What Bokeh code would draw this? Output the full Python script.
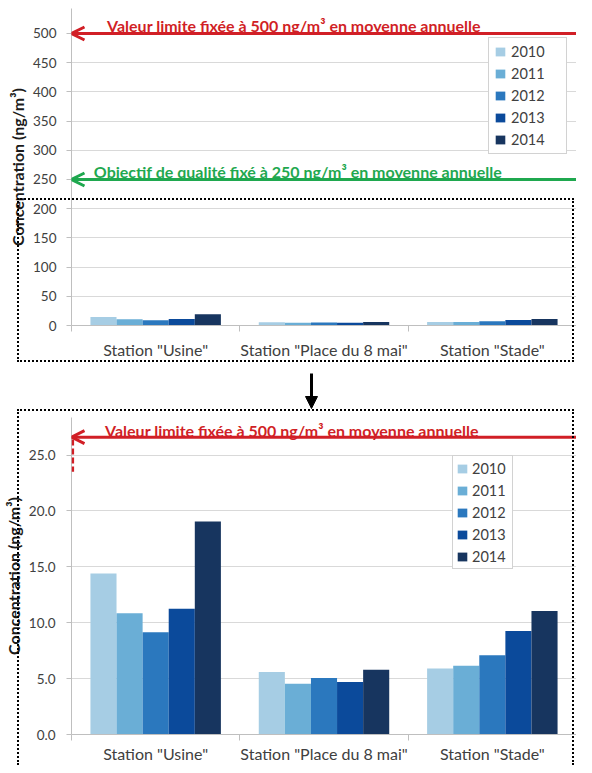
import numpy as np
from bokeh.plotting import figure
from bokeh.models import (Range1d, FixedTicker, Arrow, OpenHead, NormalHead, Label,
                          Legend, LegendItem, PrintfTickFormatter, InlineStyleSheet)
from bokeh.layouts import column
from bokeh.embed import file_html
from bokeh.resources import INLINE

# ---------------- data ----------------
stations = ['Station "Usine"', 'Station "Place du 8 mai"', 'Station "Stade"']
years = ["2010", "2011", "2012", "2013", "2014"]
v2010 = [14.4, 5.6, 5.9]
v2011 = [10.85, 4.55, 6.15]
v2012 = [9.15, 5.05, 7.1]
v2013 = [11.25, 4.7, 9.25]
v2014 = [19.05, 5.8, 11.05]
series = [v2010, v2011, v2012, v2013, v2014]
colors = ["#a6cde4", "#6aaed6", "#2b78be", "#0b4a9b", "#17355f"]

limit_value = 500        # valeur limite
objective_value = 250    # objectif de qualité
ticks_top = list(range(0, 501, 50))
ticks_bottom = [0, 5, 10, 15, 20, 25]

limit_text = "Valeur limite fixée à 500 ng/m³ en moyenne annuelle"
objective_text = "Objectif de qualité fixé à 250 ng/m³ en moyenne annuelle"
y_label = "Concentration (ng/m³)"

FONT = "Lato"
TXT = "#404040"
GRID = "#d9d9d9"
AXIS = "#bfbfbf"
RED = "#d11f26"
GREEN = "#1fa84f"

BAR_W = 0.155


def dotted_box_css(left, top, width, height, bottom_edge=True):
    extra = "" if bottom_edge else "border-bottom: none;"
    return InlineStyleSheet(css=f"""
:host::after {{
  content: "";
  position: absolute;
  left: {left}px; top: {top}px; width: {width}px; height: {height}px;
  box-sizing: border-box;
  border: 2px dotted #000000;
  {extra}
  pointer-events: none;
}}
""")


def base_figure(height, y_end, frame_left, border_top, border_bottom, ticks, fmt,
                tick_standoff, x_standoff, sheet):
    p = figure(width=576, height=height, x_range=Range1d(0, len(stations)),
               y_range=Range1d(0, y_end), output_backend="svg", toolbar_location=None,
               min_border_left=frame_left, min_border_right=0, min_border_top=border_top,
               min_border_bottom=border_bottom, stylesheets=[sheet])
    p.outline_line_color = None
    p.xgrid.grid_line_color = None
    p.ygrid.grid_line_color = GRID
    p.ygrid.ticker = FixedTicker(ticks=ticks)
    # y axis
    p.yaxis.ticker = FixedTicker(ticks=ticks)
    if fmt:
        p.yaxis.formatter = PrintfTickFormatter(format=fmt)
    p.yaxis.axis_line_color = AXIS
    p.yaxis.major_tick_line_color = AXIS
    p.yaxis.major_tick_out = 5
    p.yaxis.major_tick_in = 0
    p.yaxis.minor_tick_line_color = None
    p.yaxis.major_label_standoff = tick_standoff
    p.yaxis.major_label_text_font = FONT
    p.yaxis.major_label_text_font_size = "13.5px"
    p.yaxis.major_label_text_color = TXT
    p.yaxis.axis_label = y_label
    p.yaxis.axis_label_text_font = FONT
    p.yaxis.axis_label_text_font_size = "16px"
    p.yaxis.axis_label_text_font_style = "bold"
    p.yaxis.axis_label_text_color = "#1a1a1a"
    p.yaxis.axis_label_standoff = 3
    # x axis (category centres labelled, boundaries ticked)
    centres = [i + 0.5 for i in range(len(stations))]
    p.xaxis.ticker = FixedTicker(ticks=centres, minor_ticks=list(range(len(stations) + 1)))
    p.xaxis.major_label_overrides = {c: s for c, s in zip(centres, stations)}
    p.xaxis.axis_line_color = AXIS
    p.xaxis.major_tick_line_color = None
    p.xaxis.major_tick_out = 0
    p.xaxis.major_tick_in = 0
    p.xaxis.minor_tick_line_color = AXIS
    p.xaxis.minor_tick_out = 6
    p.xaxis.minor_tick_in = 0
    p.xaxis.major_label_standoff = x_standoff
    p.xaxis.major_label_text_font = FONT
    p.xaxis.major_label_text_font_size = "16px"
    p.xaxis.major_label_text_color = TXT
    # bars
    items = []
    idx = np.arange(len(stations))
    for j, (yr, vals, col) in enumerate(zip(years, series, colors)):
        xs = idx + 0.5 + (j - (len(years) - 1) / 2) * BAR_W
        r = p.vbar(x=xs, top=vals, width=BAR_W, bottom=0, fill_color=col, line_color=None)
        items.append(LegendItem(label=yr, renderers=[r]))
    return p, items


def add_legend(p, items, loc, padding, label_width, spacing, standoff, label_height):
    leg = Legend(items=items, location=loc, padding=padding, spacing=spacing,
                 label_height=label_height, label_width=label_width, glyph_width=12,
                 glyph_height=11, label_standoff=standoff, margin=0,
                 border_line_color="#a6a6a6", border_line_width=1,
                 background_fill_color="white", background_fill_alpha=1,
                 label_text_font=FONT, label_text_font_size="14.5px", label_text_color=TXT)
    p.add_layout(leg, "center")


def threshold(p, yv, text, color, x_off, y_off):
    p.add_layout(Arrow(end=OpenHead(size=13, line_color=color, line_width=3),
                       x_start=len(stations), y_start=yv, x_end=0, y_end=yv,
                       line_color=color, line_width=3))
    p.add_layout(Label(x=len(stations) / 2, y=yv, x_offset=x_off, y_offset=y_off, text=text,
                       text_align="center", text_baseline="alphabetic", text_color=color,
                       text_font=FONT, text_font_size="16px", text_font_style="bold"))


# ---------------- top chart (full scale) ----------------
top, top_items = base_figure(365, 542.8, 59, 8, 40, ticks_top, None, 10, 8,
                             dotted_box_css(17, 198, 557, 164))
threshold(top, limit_value, limit_text, RED, -30, 8)
threshold(top, objective_value, objective_text, GREEN, -26, 8)
add_legend(top, top_items, (417, 171), 5, 50, 5, 5, 17)

# ---------------- connecting arrow ----------------
mid = figure(width=576, height=44, x_range=Range1d(0, 576), y_range=Range1d(44, 0),
             output_backend="svg", toolbar_location=None, min_border=0,
             min_border_left=0, min_border_right=0, min_border_top=0, min_border_bottom=0,
             x_axis_location=None, y_axis_location=None)
mid.outline_line_color = None
mid.grid.visible = False
mid.add_layout(Arrow(x_start=311, y_start=8, x_end=311, y_end=43,
                     start_units="canvas", end_units="canvas",
                     line_color="black", line_width=3,
                     end=NormalHead(size=12, fill_color="black", line_color="black")))

# ---------------- bottom chart (zoom) ----------------
bot, bot_items = base_figure(356, 28.36, 62, 8, 27, ticks_bottom, "%.1f", 11, 3,
                             dotted_box_css(17, 0, 557, 356, bottom_edge=False))
threshold(bot, 26.6, limit_text, RED, -32, 7)
# dashed red drop at the left end of the limit arrow
bot.add_layout(Arrow(x_start=0.008, y_start=26.4, x_end=0.008, y_end=23.5, end=None,
                     line_color=RED, line_width=2.5, line_dash="6 3"))
add_legend(bot, bot_items, (381, 165), 3, 37, 4, 4, 18)

layout = column(top, mid, bot, spacing=0)
open("out.html", "w").write(file_html(layout, INLINE))
